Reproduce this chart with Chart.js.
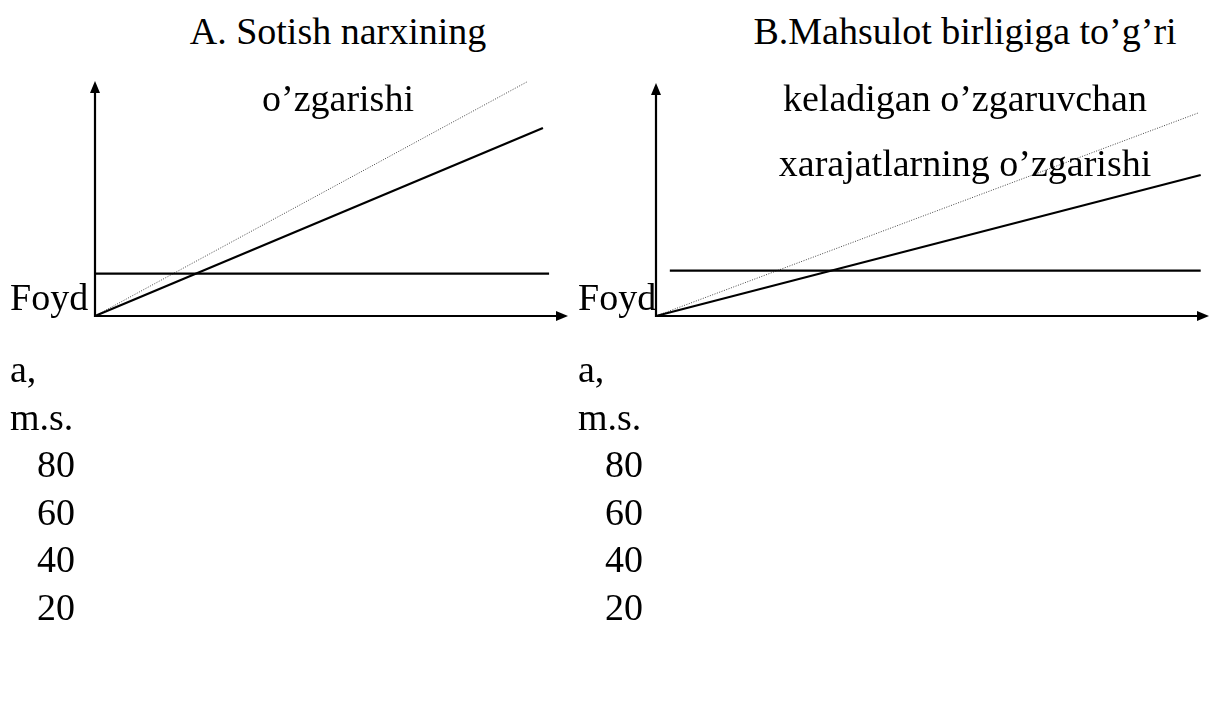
<!DOCTYPE html>
<html lang="uz">
<head>
    <meta charset="UTF-8">
    <title>Foyda grafiklari</title>
    <script src="https://cdn.jsdelivr.net/npm/chart.js"></script>
    <style>
        html, body {
            margin: 0;
            padding: 0;
            background: #fff;
            overflow: hidden;
        }
        body {
            width: 1209px;
            height: 718px;
            position: relative;
            font-family: "Liberation Serif", "Times New Roman", serif;
            font-size: 38px;
            color: #000;
        }
        .txt {
            position: absolute;
            line-height: 38px;
            white-space: pre;
        }
        .center { transform: translateX(-50%); }
        canvas { position: absolute; }
    </style>
</head>
<body>

    <canvas id="chartA" width="493" height="255" style="left:85px; top:71px;"></canvas>
    <canvas id="chartB" width="563" height="253" style="left:646px; top:73px;"></canvas>

    <div id="labels"></div>

    <script>
        // panel A: sotish narxi o'zgarganda
        const aFixedX = [0, 96];
        const aFixedY = [18, 18];
        const aSolidX = [0, 94.7];
        const aSolidY = [0, 80];
        const aDotX = [0, 91.3];
        const aDotY = [0, 99.6];

        // panel B: o'zgaruvchan xarajatlar o'zgarganda
        const bFixedX = [2.5, 98.5];
        const bFixedY = [19.5, 19.5];
        const bSolidX = [0, 98.5];
        const bSolidY = [0, 60.5];
        const bDotX = [0, 98];
        const bDotY = [0, 87.1];

        const titleA = ["A. Sotish narxining", "o’zgarishi"];
        const titleB = ["B.Mahsulot birligiga to’g’ri", "keladigan o’zgaruvchan", "xarajatlarning o’zgarishi"];
        const axisWords = ["Foyd", "a,", "m.s."];
        const tickLabels = ["80", "60", "40", "20"];

        // text lines (HTML, real text)
        const holder = document.getElementById("labels");
        function addText(str, x, baseline, centered) {
            const d = document.createElement("div");
            d.className = "txt" + (centered ? " center" : "");
            d.textContent = str;
            d.style.left = x + "px";
            d.style.top = (baseline - 32) + "px";
            holder.appendChild(d);
        }
        const titleBase = [44, 111, 176];
        titleA.forEach((t, i) => addText(t, 338, titleBase[i], true));
        titleB.forEach((t, i) => addText(t, 965, titleBase[i], true));

        const sideBase = [310, 382, 430, 477, 525, 572, 620];
        [0, 568].forEach(left => {
            axisWords.forEach((t, i) => addText(t, left + 10, sideBase[i], false));
            tickLabels.forEach((t, i) => addText(t, left + 37, sideBase[i + 3], false));
        });

        function pts(xs, ys) {
            return xs.map((x, i) => ({ x: x, y: ys[i] }));
        }

        // axes with arrow heads
        const arrowAxes = {
            id: "arrowAxes",
            beforeDatasetsDraw(chart) {
                const ctx = chart.ctx;
                const sx = chart.scales.x, sy = chart.scales.y;
                const ox = sx.getPixelForValue(0), oy = sy.getPixelForValue(0);
                const tx = sx.getPixelForValue(100), ty = sy.getPixelForValue(100);
                ctx.save();
                ctx.strokeStyle = "#000";
                ctx.fillStyle = "#000";
                ctx.lineWidth = 2.2;
                ctx.beginPath();
                ctx.moveTo(ox, oy + 1);
                ctx.lineTo(ox, ty + 10);
                ctx.moveTo(ox - 1, oy);
                ctx.lineTo(tx - 10, oy);
                ctx.stroke();
                ctx.beginPath();
                ctx.moveTo(ox, ty);
                ctx.lineTo(ox - 5, ty + 12);
                ctx.lineTo(ox + 5, ty + 12);
                ctx.closePath();
                ctx.fill();
                ctx.beginPath();
                ctx.moveTo(tx, oy);
                ctx.lineTo(tx - 12, oy - 5);
                ctx.lineTo(tx - 12, oy + 5);
                ctx.closePath();
                ctx.fill();
                ctx.restore();
            }
        };

        function makeChart(id, fixed, solid, dotted, pad) {
            return new Chart(document.getElementById(id), {
                type: "line",
                data: {
                    datasets: [
                        { data: fixed, borderColor: "#000", borderWidth: 2.2 },
                        { data: solid, borderColor: "#000", borderWidth: 2.2 },
                        { data: dotted, borderColor: "#444", borderWidth: 1, borderDash: [1, 1.5] }
                    ]
                },
                options: {
                    responsive: false,
                    animation: false,
                    devicePixelRatio: 1,
                    layout: { padding: pad },
                    elements: { point: { radius: 0 }, line: { tension: 0 } },
                    datasets: { line: { clip: false } },
                    plugins: { legend: { display: false }, tooltip: { enabled: false } },
                    scales: {
                        x: { type: "linear", min: 0, max: 100, display: false },
                        y: { type: "linear", min: 0, max: 100, display: false }
                    }
                },
                plugins: [arrowAxes]
            });
        }

        makeChart("chartA", pts(aFixedX, aFixedY), pts(aSolidX, aSolidY), pts(aDotX, aDotY),
            { left: 10, right: 10, top: 10, bottom: 10 });
        makeChart("chartB", pts(bFixedX, bFixedY), pts(bSolidX, bSolidY), pts(bDotX, bDotY),
            { left: 10, right: 0, top: 10, bottom: 10 });
    </script>

</body>
</html>
